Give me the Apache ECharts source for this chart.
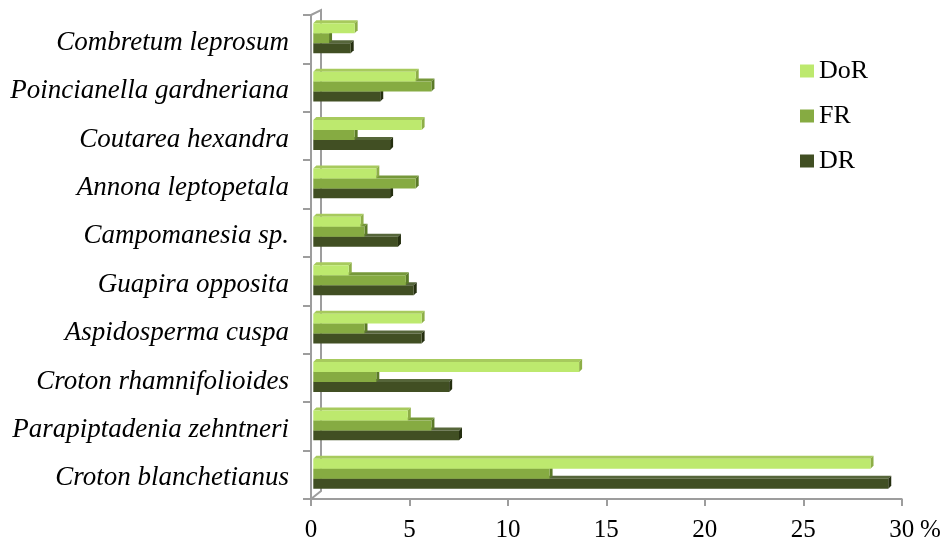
<!DOCTYPE html>
<html>
<head>
<meta charset="utf-8">
<script src="https://cdn.jsdelivr.net/npm/echarts@6/dist/echarts.min.js"></script>
<style>
  html, body { margin: 0; padding: 0; background: #ffffff; }
  #chart { width: 944px; height: 543px; }
</style>
</head>
<body>
<div id="chart"></div>
<script>
// Species, listed top to bottom
const species = [
  'Combretum leprosum',
  'Poincianella gardneriana',
  'Coutarea hexandra',
  'Annona leptopetala',
  'Campomanesia sp.',
  'Guapira opposita',
  'Aspidosperma cuspa',
  'Croton rhamnifolioides',
  'Parapiptadenia zehntneri',
  'Croton blanchetianus'
];

// Relative dominance, frequency and density (%)
const DoR = [2.1, 5.2, 5.5, 3.2, 2.4, 1.8, 5.5, 13.5, 4.8, 28.3];
const FR  = [0.8, 6.0, 2.1, 5.2, 2.6, 4.7, 2.6, 3.2, 6.0, 12.0];
const DR  = [1.9, 3.4, 3.9, 3.9, 4.3, 5.1, 5.5, 6.9, 7.4, 29.2];

// Value axis ticks
const xTicks = [0, 5, 10, 15, 20, 25, 30];
const xUnit = '%';

const FONT = '"Liberation Serif", "Times New Roman", serif';
const AXIS_GRAY = '#9d9d9d';

const palettes = {
  DoR: { front: '#bde96e', top: '#a7ca5d', side: '#8dae47' },
  FR:  { front: '#86ab42', top: '#76983a', side: '#5b7a28' },
  DR:  { front: '#414f23', top: '#56663a', side: '#252f10' }
};

// Draws one bar of a three-bar cluster as a box with a top and right face
function boxBar(slot, pal) {
  return function (params, api) {
    const cat = api.value(1);
    const val = api.value(0);
    const p0 = api.coord([0, cat]);
    const p1 = api.coord([val, cat]);
    const band = api.size([0, 1])[1];
    const h = band * 0.206;
    const shift = 2.3;
    const dx = 3, dy = 3;
    const x0 = p0[0] + shift;
    const x1 = p1[0] + shift;
    const yTop = p0[1] - 1 - 1.5 * h + slot * h;
    const yBot = yTop + h;
    return {
      type: 'group',
      children: [
        { type: 'polygon',
          shape: { points: [[x0, yTop], [x1, yTop], [x1 + dx, yTop - dy], [x0 + dx, yTop - dy]] },
          style: { fill: pal.top } },
        { type: 'polygon',
          shape: { points: [[x1, yTop], [x1 + dx, yTop - dy], [x1 + dx, yBot - dy], [x1, yBot]] },
          style: { fill: pal.side } },
        { type: 'rect',
          shape: { x: x0, y: yTop, width: x1 - x0, height: h },
          style: { fill: pal.front } }
      ]
    };
  };
}

function makeSeries(name, values, slot, z) {
  return {
    name: name,
    type: 'custom',
    z: z,
    renderItem: boxBar(slot, palettes[name]),
    itemStyle: { color: palettes[name].front },
    encode: { x: 0, y: 1 },
    data: values.map((v, i) => [v, i])
  };
}

const chart = echarts.init(document.getElementById('chart'), null, { renderer: 'canvas' });

chart.setOption({
  backgroundColor: '#ffffff',
  animation: false,
  grid: { left: 311, right: 42.3, top: 15, bottom: 43, containLabel: false },
  legend: {
    orient: 'vertical',
    left: 795,
    top: 53,
    data: ['DoR', 'FR', 'DR'],
    icon: 'rect',
    itemWidth: 14,
    itemHeight: 13,
    itemGap: 19,
    textStyle: { fontFamily: FONT, fontSize: 26, lineHeight: 26, color: '#000' }
  },
  xAxis: {
    type: 'value',
    min: xTicks[0],
    max: xTicks[xTicks.length - 1],
    interval: xTicks[1] - xTicks[0],
    name: xUnit,
    nameLocation: 'end',
    nameGap: 18,
    nameTextStyle: {
      fontFamily: FONT, fontSize: 25, color: '#000',
      verticalAlign: 'top', padding: [19, 0, 0, 0]
    },
    axisLine: { show: true, lineStyle: { color: AXIS_GRAY, width: 2 } },
    axisTick: { show: true, length: 7, lineStyle: { color: AXIS_GRAY, width: 2 } },
    axisLabel: {
      fontFamily: FONT, fontSize: 25, color: '#000', margin: 19,
      formatter: v => String(xTicks[xTicks.indexOf(v)])
    },
    splitLine: { show: false }
  },
  yAxis: {
    type: 'category',
    inverse: true,
    data: species,
    axisLine: { show: true, lineStyle: { color: AXIS_GRAY, width: 2 } },
    axisTick: { show: true, length: 8, lineStyle: { color: AXIS_GRAY, width: 2 } },
    axisLabel: {
      margin: 22,
      formatter: name => '{sp|' + name + '}',
      rich: {
        sp: {
          fontFamily: FONT, fontStyle: 'italic', fontSize: 27, color: '#000',
          padding: [7, 0, 0, 0]
        }
      }
    }
  },
  series: [
    makeSeries('DoR', DoR, 0, 4),
    makeSeries('FR', FR, 1, 3),
    makeSeries('DR', DR, 2, 2)
  ]
});

// Back wall edge of the plot box, placed from the axes
const xZero = chart.convertToPixel({ xAxisIndex: 0 }, 0);
const yFirst = chart.convertToPixel({ yAxisIndex: 0 }, species[0]);
const ySecond = chart.convertToPixel({ yAxisIndex: 0 }, species[1]);
const yLast = chart.convertToPixel({ yAxisIndex: 0 }, species[species.length - 1]);
const band = ySecond - yFirst;
const yTopEdge = yFirst - band / 2;
const yBottomEdge = yLast + band / 2;

chart.setOption({
  graphic: [{
    type: 'polyline',
    z: 1,
    shape: {
      points: [
        [xZero, yTopEdge],
        [xZero + 10, yTopEdge - 5],
        [xZero + 10, yBottomEdge - 8],
        [xZero, yBottomEdge]
      ]
    },
    style: { stroke: AXIS_GRAY, lineWidth: 2, fill: null }
  }]
});
</script>
</body>
</html>
